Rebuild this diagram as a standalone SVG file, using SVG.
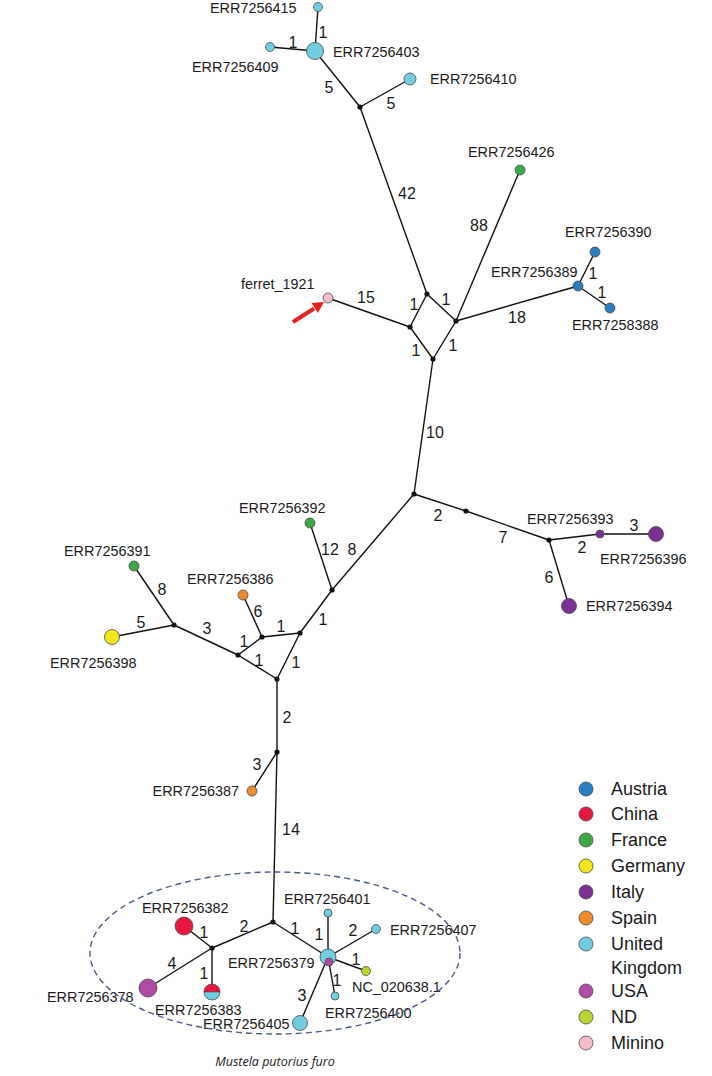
<svg xmlns="http://www.w3.org/2000/svg" width="712" height="1076" viewBox="0 0 712 1076">
<style>
.e{stroke:#111;stroke-width:1.4;fill:none}
.lb{font-family:"Liberation Sans",Arial,sans-serif;font-size:14.4px;fill:#1a1a1a}
.nm{font-family:"Liberation Sans",Arial,sans-serif;font-size:16px;fill:#1a1a1a;text-anchor:middle}
.lg{font-family:"Liberation Sans",Arial,sans-serif;font-size:18px;fill:#1a1a1a}
.j{fill:#111}
.n{stroke:#4a4a4a;stroke-width:0.8}
.at{fill:#2a7cc2}.cn{fill:#e8173f}.fr{fill:#3ca845}.de{fill:#f3e61b}.it{fill:#7d2f98}.es{fill:#ef8a2e}.uk{fill:#70cde2}.us{fill:#b24aa8}.nd{fill:#bcd532}.mi{fill:#f6bcc8}
</style>
<rect width="712" height="1076" fill="#ffffff"/>
<g id="connectors">
<line class="e" x1="318" y1="7" x2="315" y2="51"/>
<line class="e" x1="270" y1="47" x2="315" y2="51"/>
<line class="e" x1="315" y1="51" x2="360" y2="107"/>
<line class="e" x1="360" y1="107" x2="410" y2="79"/>
<line class="e" x1="360" y1="107" x2="427" y2="294"/>
<line class="e" x1="427" y1="294" x2="456" y2="321"/>
<line class="e" x1="427" y1="294" x2="410" y2="327"/>
<line class="e" x1="410" y1="327" x2="433" y2="359"/>
<line class="e" x1="456" y1="321" x2="433" y2="359"/>
<line class="e" x1="328" y1="298" x2="410" y2="327"/>
<line class="e" x1="456" y1="321" x2="520" y2="170"/>
<line class="e" x1="456" y1="321" x2="578" y2="286"/>
<line class="e" x1="578" y1="286" x2="595" y2="252"/>
<line class="e" x1="578" y1="286" x2="610" y2="308"/>
<line class="e" x1="433" y1="359" x2="414" y2="494"/>
<line class="e" x1="414" y1="494" x2="466" y2="511"/>
<line class="e" x1="466" y1="511" x2="549" y2="540"/>
<line class="e" x1="549" y1="540" x2="600" y2="534"/>
<line class="e" x1="600" y1="534" x2="656" y2="534"/>
<line class="e" x1="549" y1="540" x2="569" y2="606"/>
<line class="e" x1="414" y1="494" x2="332" y2="590"/>
<line class="e" x1="332" y1="590" x2="310" y2="523"/>
<line class="e" x1="332" y1="590" x2="300" y2="633"/>
<line class="e" x1="300" y1="633" x2="262" y2="637"/>
<line class="e" x1="300" y1="633" x2="277" y2="679"/>
<line class="e" x1="262" y1="637" x2="243" y2="595"/>
<line class="e" x1="262" y1="637" x2="238" y2="655"/>
<line class="e" x1="238" y1="655" x2="277" y2="679"/>
<line class="e" x1="238" y1="655" x2="174" y2="625"/>
<line class="e" x1="174" y1="625" x2="134" y2="566"/>
<line class="e" x1="174" y1="625" x2="112" y2="637"/>
<line class="e" x1="277" y1="679" x2="277" y2="752"/>
<line class="e" x1="277" y1="752" x2="252" y2="791"/>
<line class="e" x1="277" y1="752" x2="273" y2="922"/>
<line class="e" x1="273" y1="922" x2="212" y2="948"/>
<line class="e" x1="212" y1="948" x2="184" y2="926"/>
<line class="e" x1="212" y1="948" x2="148" y2="988"/>
<line class="e" x1="212" y1="948" x2="212" y2="992"/>
<line class="e" x1="273" y1="922" x2="328" y2="957"/>
<line class="e" x1="328" y1="957" x2="328" y2="913"/>
<line class="e" x1="328" y1="957" x2="376" y2="929"/>
<line class="e" x1="328" y1="957" x2="366" y2="971"/>
<line class="e" x1="328" y1="957" x2="335" y2="996"/>
<line class="e" x1="328" y1="957" x2="300" y2="1023"/>
</g>
<g id="edge-labels">
<text class="nm" x="323" y="38">1</text>
<text class="nm" x="293" y="48">1</text>
<text class="nm" x="329" y="93">5</text>
<text class="nm" x="391" y="109">5</text>
<text class="nm" x="407" y="199">42</text>
<text class="nm" x="479" y="231">88</text>
<text class="nm" x="366" y="303">15</text>
<text class="nm" x="414" y="310">1</text>
<text class="nm" x="446" y="305">1</text>
<text class="nm" x="416" y="356">1</text>
<text class="nm" x="453" y="351">1</text>
<text class="nm" x="517" y="323">18</text>
<text class="nm" x="593" y="279">1</text>
<text class="nm" x="602" y="298">1</text>
<text class="nm" x="435" y="438">10</text>
<text class="nm" x="438" y="521">2</text>
<text class="nm" x="503" y="543">7</text>
<text class="nm" x="582" y="553">2</text>
<text class="nm" x="634" y="531">3</text>
<text class="nm" x="549" y="583">6</text>
<text class="nm" x="330" y="555">12</text>
<text class="nm" x="352" y="555">8</text>
<text class="nm" x="323" y="625">1</text>
<text class="nm" x="281" y="632">1</text>
<text class="nm" x="258" y="617">6</text>
<text class="nm" x="244" y="647">1</text>
<text class="nm" x="259" y="666">1</text>
<text class="nm" x="296" y="668">1</text>
<text class="nm" x="207" y="634">3</text>
<text class="nm" x="162" y="595">8</text>
<text class="nm" x="141" y="628">5</text>
<text class="nm" x="287" y="723">2</text>
<text class="nm" x="257" y="770">3</text>
<text class="nm" x="291" y="835">14</text>
<text class="nm" x="244" y="932">2</text>
<text class="nm" x="204" y="938">1</text>
<text class="nm" x="172" y="969">4</text>
<text class="nm" x="204" y="979">1</text>
<text class="nm" x="295" y="934">1</text>
<text class="nm" x="319" y="940">1</text>
<text class="nm" x="353" y="936">2</text>
<text class="nm" x="356" y="965">1</text>
<text class="nm" x="337" y="986">1</text>
<text class="nm" x="302" y="1001">3</text>
</g>
<g id="junctions">
<circle class="j" cx="360" cy="107" r="2.6"/>
<circle class="j" cx="427" cy="294" r="2.6"/>
<circle class="j" cx="456" cy="321" r="2.6"/>
<circle class="j" cx="410" cy="327" r="2.6"/>
<circle class="j" cx="433" cy="359" r="2.6"/>
<circle class="j" cx="414" cy="494" r="2.6"/>
<circle class="j" cx="466" cy="511" r="2.6"/>
<circle class="j" cx="549" cy="540" r="2.6"/>
<circle class="j" cx="332" cy="590" r="2.6"/>
<circle class="j" cx="300" cy="633" r="2.6"/>
<circle class="j" cx="262" cy="637" r="2.6"/>
<circle class="j" cx="238" cy="655" r="2.6"/>
<circle class="j" cx="277" cy="679" r="2.6"/>
<circle class="j" cx="174" cy="625" r="2.6"/>
<circle class="j" cx="277" cy="752" r="2.6"/>
<circle class="j" cx="273" cy="922" r="2.6"/>
<circle class="j" cx="212" cy="948" r="2.6"/>
</g>
<g id="ERR7256415"><circle class="n uk" cx="318" cy="7" r="4.5"/><text class="lb" x="210" y="13">ERR7256415</text></g>
<g id="ERR7256403"><circle class="n uk" cx="315" cy="51" r="8.5"/><text class="lb" x="333" y="57">ERR7256403</text></g>
<g id="ERR7256409"><circle class="n uk" cx="270" cy="47" r="4.5"/><text class="lb" x="192" y="72">ERR7256409</text></g>
<g id="ERR7256410"><circle class="n uk" cx="410" cy="79" r="6"/><text class="lb" x="430" y="84">ERR7256410</text></g>
<g id="ERR7256426"><circle class="n fr" cx="520" cy="170" r="5"/><text class="lb" x="468" y="157">ERR7256426</text></g>
<g id="ERR7256389"><circle class="n at" cx="578" cy="286" r="5"/><text class="lb" x="491" y="277">ERR7256389</text></g>
<g id="ERR7256390"><circle class="n at" cx="595" cy="252" r="5"/><text class="lb" x="565" y="237">ERR7256390</text></g>
<g id="ERR7258388"><circle class="n at" cx="610" cy="308" r="5"/><text class="lb" x="572" y="330">ERR7258388</text></g>
<g id="ferret_1921"><circle class="n mi" cx="328" cy="298" r="5"/><text class="lb" x="241" y="289">ferret_1921</text>
<line x1="293" y1="322" x2="314" y2="308.5" stroke="#e8231f" stroke-width="4"/>
<polygon points="324,302 311.5,303 318,313" fill="#e8231f"/></g>
<g id="ERR7256393"><circle class="n it" cx="600" cy="534" r="4"/><text class="lb" x="527" y="524">ERR7256393</text></g>
<g id="ERR7256396"><circle class="n it" cx="656" cy="534" r="7.5"/><text class="lb" x="600" y="564">ERR7256396</text></g>
<g id="ERR7256394"><circle class="n it" cx="569" cy="606" r="7.5"/><text class="lb" x="586" y="611">ERR7256394</text></g>
<g id="ERR7256392"><circle class="n fr" cx="310" cy="523" r="5"/><text class="lb" x="239" y="513">ERR7256392</text></g>
<g id="ERR7256386"><circle class="n es" cx="243" cy="595" r="5"/><text class="lb" x="187" y="584">ERR7256386</text></g>
<g id="ERR7256391"><circle class="n fr" cx="134" cy="566" r="5"/><text class="lb" x="64" y="556">ERR7256391</text></g>
<g id="ERR7256398"><circle class="n de" cx="112" cy="637" r="7.5"/><text class="lb" x="50" y="668">ERR7256398</text></g>
<g id="ERR7256387"><circle class="n es" cx="252" cy="791" r="5"/><text class="lb" x="239" y="796" text-anchor="end">ERR7256387</text></g>
<g id="ERR7256382"><circle class="n cn" cx="184" cy="926" r="9"/><text class="lb" x="142" y="913">ERR7256382</text></g>
<g id="ERR7256378"><circle class="n us" cx="148" cy="988" r="9"/><text class="lb" x="47" y="1002">ERR7256378</text></g>
<g id="ERR7256383">
<path class="cn" d="M204,992 A8,8 0 0 1 220,992 Z"/>
<path class="uk" d="M204,992 A8,8 0 0 0 220,992 Z"/>
<circle cx="212" cy="992" r="8" fill="none" stroke="#4a4a4a" stroke-width="0.8"/>
<line x1="204" y1="992" x2="220" y2="992" stroke="#4a4a4a" stroke-width="0.6"/>
<text class="lb" x="155" y="1015">ERR7256383</text></g>
<g id="ERR7256379"><circle class="n uk" cx="328" cy="957" r="8"/><circle class="n us" cx="329" cy="962" r="4"/><text class="lb" x="228" y="968">ERR7256379</text></g>
<g id="ERR7256401"><circle class="n uk" cx="328" cy="913" r="4"/><text class="lb" x="284" y="904">ERR7256401</text></g>
<g id="ERR7256407"><circle class="n uk" cx="376" cy="929" r="4.5"/><text class="lb" x="390" y="935">ERR7256407</text></g>
<g id="NC_020638.1"><circle class="n nd" cx="366" cy="971" r="4.5"/><text class="lb" x="352" y="992">NC_020638.1</text></g>
<g id="ERR7256400"><circle class="n uk" cx="335" cy="996" r="4"/><text class="lb" x="325" y="1018">ERR7256400</text></g>
<g id="ERR7256405"><circle class="n uk" cx="300" cy="1023" r="7.5"/><text class="lb" x="203" y="1029">ERR7256405</text></g>
<g id="group-mustela">
<ellipse cx="275" cy="953" rx="185" ry="81" fill="none" stroke="#4a5a86" stroke-width="1.4" stroke-dasharray="6,4"/>
<text x="275" y="1066" text-anchor="middle" font-family="'Open Sans','Liberation Sans',sans-serif" font-style="italic" font-size="12.5" fill="#1a1a1a">Mustela putorius furo</text>
</g>
<g id="legend">
<circle class="n at" cx="586" cy="789" r="7"/><text class="lg" x="611" y="795">Austria</text>
<circle class="n cn" cx="586" cy="814" r="7"/><text class="lg" x="611" y="820">China</text>
<circle class="n fr" cx="586" cy="840" r="7"/><text class="lg" x="611" y="846">France</text>
<circle class="n de" cx="586" cy="866" r="7"/><text class="lg" x="611" y="872">Germany</text>
<circle class="n it" cx="586" cy="892" r="7"/><text class="lg" x="611" y="898">Italy</text>
<circle class="n es" cx="586" cy="918" r="7"/><text class="lg" x="611" y="924">Spain</text>
<circle class="n uk" cx="586" cy="944" r="7"/><text class="lg" x="611" y="950">United</text><text class="lg" x="611" y="974">Kingdom</text>
<circle class="n us" cx="586" cy="991" r="7"/><text class="lg" x="611" y="997">USA</text>
<circle class="n nd" cx="586" cy="1017" r="7"/><text class="lg" x="611" y="1023">ND</text>
<circle class="n mi" cx="586" cy="1043" r="7"/><text class="lg" x="611" y="1049">Minino</text>
</g>
</svg>
